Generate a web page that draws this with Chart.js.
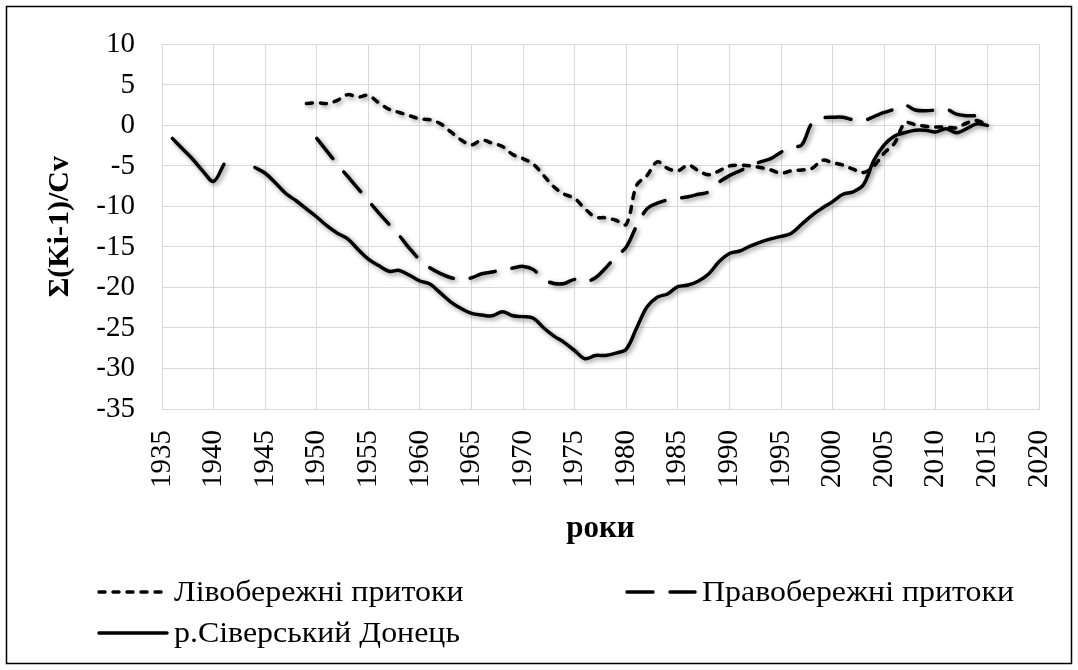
<!DOCTYPE html>
<html>
<head>
<meta charset="utf-8">
<script src="https://cdn.jsdelivr.net/npm/chart.js@4/dist/chart.umd.min.js"></script>
<style>
html, body { margin: 0; padding: 0; background: #fff; }
</style>
</head>
<body>
<canvas id="graphCanvas" width="1078" height="670"></canvas>
<script>
var years = [1936, 1937, 1938, 1939, 1940, 1941, 1942, 1943, 1944, 1945,
    1946, 1947, 1948, 1949, 1950, 1951, 1952, 1953, 1954, 1955,
    1956, 1957, 1958, 1959, 1960, 1961, 1962, 1963, 1964, 1965,
    1966, 1967, 1968, 1969, 1970, 1971, 1972, 1973, 1974, 1975,
    1976, 1977, 1978, 1979, 1980, 1981, 1982, 1983, 1984, 1985,
    1986, 1987, 1988, 1989, 1990, 1991, 1992, 1993, 1994, 1995,
    1996, 1997, 1998, 1999, 2000, 2001, 2002, 2003, 2004, 2005,
    2006, 2007, 2008, 2009, 2010, 2011, 2012, 2013, 2014, 2015];

// Лівобережні притоки (from 1949)
var livoberezhni = [null, null, null, null, null, null, null, null, null, null,
    null, null, null, 2.7, 2.8, 2.7, 3.1, 3.8, 3.5, 3.7,
    2.8, 2.0, 1.6, 1.2, 0.8, 0.7, 0.2, -0.8, -1.8, -2.4,
    -1.8, -2.2, -2.6, -3.6, -4.1, -4.8, -6.2, -7.6, -8.5, -9.0,
    -10.3, -11.3, -11.4, -11.7, -12.2, -7.4, -6.2, -4.5, -5.3, -5.6,
    -4.9, -5.6, -6.1, -5.6, -5.0, -4.9, -5.0, -5.2, -5.5, -5.9,
    -5.6, -5.5, -5.3, -4.3, -4.6, -4.9, -5.4, -5.8, -5.0, -3.4,
    -2.2, 0.3, 0.1, -0.1, -0.2, -0.2, -0.3, 0.3, 0.6, 0.0];

// Правобережні притоки (from 1950)
var pravoberezhni = [null, null, null, null, null, null, null, null, null, null,
    null, null, null, null, -1.6, -3.2, -4.8, -6.3, -7.8, -9.3,
    -10.8, -12.2, -13.6, -15.2, -16.6, -17.6, -18.3, -18.8, -19.0, -18.8,
    -18.3, -18.1, -17.8, -17.6, -17.4, -17.8, -19.0, -19.5, -19.5, -19.0,
    -19.3, -18.8, -17.6, -16.2, -15.0, -12.4, -10.3, -9.6, -9.2, -9.0,
    -8.8, -8.5, -8.2, -7.0, -6.2, -5.6, -5.0, -4.5, -4.1, -3.3,
    -2.7, -2.4, 0.3, 0.9, 1.0, 1.0, 0.7, 0.6, 1.1, 1.6,
    2.0, 2.5, 1.9, 1.8, 1.9, 2.0, 1.4, 1.2, 1.1, 0.0];

// р.Сіверський Донець (gap 1942-1943)
var donets = [-1.6, -2.9, -4.2, -5.7, -6.9, -4.8, null, null, -5.2, -5.9,
    -7.1, -8.4, -9.3, -10.3, -11.3, -12.4, -13.3, -14.0, -15.3, -16.5,
    -17.3, -18.0, -17.9, -18.5, -19.2, -19.6, -20.7, -21.8, -22.6, -23.2,
    -23.4, -23.5, -23.0, -23.5, -23.6, -23.8, -25.0, -26.0, -26.8, -27.8,
    -28.8, -28.4, -28.4, -28.1, -27.6, -25.0, -22.4, -21.2, -20.8, -19.9,
    -19.7, -19.2, -18.3, -16.8, -15.8, -15.5, -14.9, -14.4, -14.0, -13.7,
    -13.3, -12.2, -11.1, -10.2, -9.4, -8.5, -8.2, -7.3, -4.3, -2.4,
    -1.3, -0.9, -0.6, -0.6, -0.8, -0.4, -0.9, -0.4, 0.2, 0.0];

var yearTicks = [1935, 1940, 1945, 1950, 1955, 1960, 1965, 1970, 1975,
    1980, 1985, 1990, 1995, 2000, 2005, 2010, 2015, 2020];
var valueTicks = [10, 5, 0, -5, -10, -15, -20, -25, -30, -35];

var seriesNames = ['Лівобережні притоки', 'Правобережні притоки', 'р.Сіверський Донець'];

function points(values)
{
    return years.map(function (y, i) { return {x: y, y: values[i]}; });
}

var fontFamily = '"Liberation Serif", "Times New Roman", serif';

// soft shadow under the lines, like the original
var shadowPlugin = {
    id: 'shadow',
    beforeDatasetsDraw: function (chart) {
        var ctx = chart.ctx;
        ctx.save();
        ctx.shadowColor = 'rgba(0,0,0,0.45)';
        ctx.shadowBlur = 5;
        ctx.shadowOffsetX = 2;
        ctx.shadowOffsetY = 2;
    },
    afterDatasetsDraw: function (chart) {
        chart.ctx.restore();
    }
};

// frame round the picture, and the legend laid out in two columns like the original
var framePlugin = {
    id: 'frame',
    afterDraw: function (chart) {
        var ctx = chart.ctx;
        ctx.save();
        ctx.strokeStyle = '#000';
        ctx.lineWidth = 1.5;
        ctx.strokeRect(6.5, 6.5, 1065, 657);

        var spots = [[97, 592], [625, 592], [97, 633]];
        ctx.font = '29px ' + fontFamily;
        ctx.textBaseline = 'middle';
        ctx.fillStyle = '#000';
        chart.data.datasets.forEach(function (ds, i) {
            var x = spots[i][0], y = spots[i][1];
            ctx.beginPath();
            ctx.setLineDash(ds.borderDash || []);
            ctx.lineCap = ds.borderCapStyle || 'butt';
            ctx.lineWidth = ds.borderWidth;
            ctx.strokeStyle = ds.borderColor;
            ctx.moveTo(x + 2, y);
            ctx.lineTo(x + 70, y);
            ctx.stroke();
            ctx.setLineDash([]);
            // the original text is a little wider than Liberation Serif
            ctx.save();
            ctx.translate(x + 77, y + 1);
            ctx.scale(1.1, 1);
            ctx.fillText(ds.label, 0, 0);
            ctx.restore();
        });
        ctx.restore();
    }
};

var chartdata = {
    datasets: [
        {
            label: seriesNames[0],
            data: points(livoberezhni),
            borderColor: '#000000',
            borderWidth: 3.5,
            borderDash: [6, 8],
            borderCapStyle: 'round',
            pointRadius: 0,
            tension: 0.35,
            spanGaps: false
        },
        {
            label: seriesNames[1],
            data: points(pravoberezhni),
            borderColor: '#000000',
            borderWidth: 3.5,
            borderDash: [26, 17],
            borderCapStyle: 'round',
            pointRadius: 0,
            tension: 0.35,
            spanGaps: false
        },
        {
            label: seriesNames[2],
            data: points(donets),
            borderColor: '#000000',
            borderWidth: 3.5,
            borderCapStyle: 'round',
            pointRadius: 0,
            tension: 0.35,
            spanGaps: false
        }
    ]
};

var graphTarget = document.getElementById('graphCanvas');

var lineGraph = new Chart(graphTarget, {
    type: 'line',
    data: chartdata,
    plugins: [shadowPlugin, framePlugin],
    options: {
        responsive: false,
        animation: false,
        devicePixelRatio: 1,
        layout: {
            padding: {left: 8, top: 35, right: 39, bottom: 121}
        },
        plugins: {
            legend: {display: false},
            tooltip: {enabled: false}
        },
        scales: {
            x: {
                type: 'linear',
                min: yearTicks[0],
                max: yearTicks[yearTicks.length - 1],
                afterBuildTicks: function (scale) {
                    scale.ticks = yearTicks.map(function (v) { return {value: v}; });
                },
                afterFit: function (scale) {
                    scale.height = 140;
                    scale.paddingLeft = 0;
                    scale.paddingRight = 0;
                },
                grid: {color: '#d9d9d9', lineWidth: 1, drawTicks: false},
                border: {color: '#d9d9d9'},
                ticks: {
                    autoSkip: false,
                    maxRotation: 90,
                    minRotation: 90,
                    padding: 21,
                    color: '#000',
                    font: {family: fontFamily, size: 29},
                    callback: function (v) { return String(v); }
                },
                title: {
                    display: true,
                    text: 'роки',
                    color: '#000',
                    padding: {bottom: 1},
                    font: {family: fontFamily, size: 31, weight: 'bold'}
                }
            },
            y: {
                min: valueTicks[valueTicks.length - 1],
                max: valueTicks[0],
                afterBuildTicks: function (scale) {
                    scale.ticks = valueTicks.map(function (v) { return {value: v}; });
                },
                afterFit: function (scale) { scale.width = 154; },
                grid: {color: '#d9d9d9', lineWidth: 1, drawTicks: false},
                border: {color: '#d9d9d9'},
                ticks: {
                    padding: 27,
                    color: '#000',
                    font: {family: fontFamily, size: 29},
                    callback: function (v) { return String(v); }
                },
                title: {
                    display: true,
                    text: 'Σ(Ki-1)/Cv',
                    color: '#000',
                    padding: {top: 34},
                    font: {family: fontFamily, size: 30, weight: 'bold'}
                }
            }
        }
    }
});
</script>
</body>
</html>
